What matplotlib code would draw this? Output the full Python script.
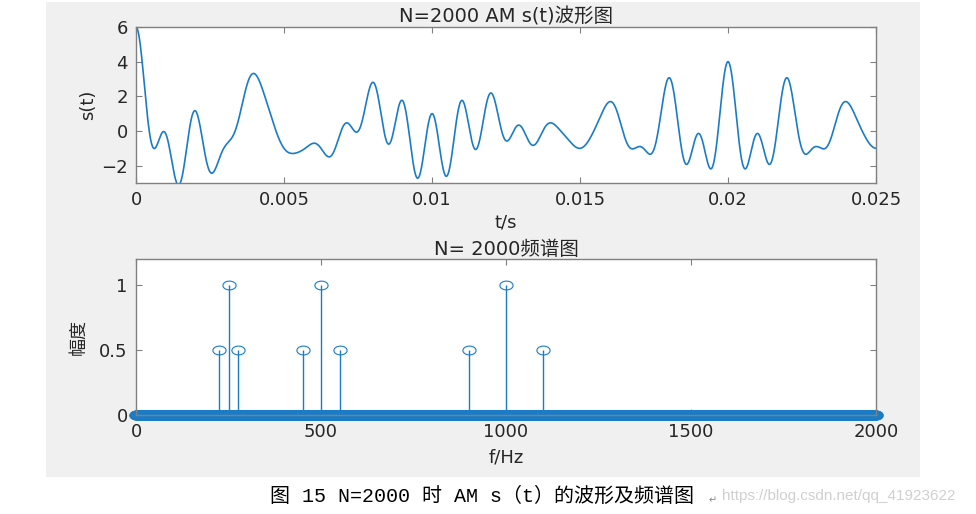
import numpy as np
import matplotlib.pyplot as plt
from matplotlib.path import Path
from matplotlib.patches import Rectangle

# spectral lines (Hz, amplitude)
line_freqs = [225, 250, 275, 450, 500, 550, 900, 1000, 1100]
line_amps = [0.5, 1.0, 0.5, 0.5, 1.0, 0.5, 0.5, 1.0, 0.5]

N = 2000
t_end = 0.025
top_title = 'N=2000 AM s(t)波形图'
bot_title = 'N= 2000频谱图'
caption = '图 15 N=2000 时 AM s（t）的波形及频谱图'
watermark = 'https://blog.csdn.net/qq_41923622'

blue = '#1a7cc6'
plt.rcParams['font.family'] = ['DejaVu Sans', 'Noto Sans CJK SC']

# waveform = sum of the spectral components above
t = np.linspace(0, t_end, 3000)
s = np.zeros_like(t)
for f0, a in zip(line_freqs, line_amps):
    s += a * np.cos(2 * np.pi * f0 * t)

# spectrum on a 1 Hz grid, zero except the lines
f = np.arange(0, N + 1)
mag = np.zeros(len(f))
for f0, a in zip(line_freqs, line_amps):
    mag[f0] = a

fig = plt.figure(figsize=(9.76, 5.14), dpi=100)
fig.patches.append(Rectangle((46 / 976, 1 - 477 / 514), (920 - 46) / 976, 475 / 514,
                             transform=fig.transFigure, facecolor='#f0f0f0',
                             edgecolor='none', zorder=-5))

ax1 = fig.add_axes([136 / 976, 1 - 183 / 514, 740 / 976, 156 / 514])
ax2 = fig.add_axes([136 / 976, 1 - 415 / 514, 740 / 976, 156 / 514])


def matlab_style(ax):
    for sp in ax.spines.values():
        sp.set_color('#808080')
        sp.set_linewidth(1.0)
    ax.tick_params(direction='in', top=True, right=True, length=4, width=0.8,
                   color='#808080', labelsize=13, labelcolor='#262626', pad=6)


ax1.plot(t, s, color=blue, lw=1.2)
ax1.set_xlim(0, t_end)
ax1.set_ylim(-3, 6)
ax1.set_xticks([0, 0.005, 0.01, 0.015, 0.02, 0.025])
ax1.set_xticklabels(['0', '0.005', '0.01', '0.015', '0.02', '0.025'])
ax1.set_yticks([-2, 0, 2, 4, 6])
ax1.set_title(top_title, fontsize=14, color='#262626', pad=3)
ax1.set_xlabel('t/s', fontsize=13, color='#262626', labelpad=3)
ax1.set_ylabel('s(t)', fontsize=13, color='#262626', labelpad=3)
matlab_style(ax1)

# stretched circle, as in the reference picture
th = np.linspace(0, 2 * np.pi, 40)
ellipse = Path(np.column_stack([1.5 * np.cos(th), np.sin(th)]))

ml, sl, bl = ax2.stem(f, mag)
sl.set_color(blue)
sl.set_linewidth(1.0)
bl.set_visible(False)
ml.set_marker(ellipse)
ml.set_markersize(9.5)
ml.set_markerfacecolor('none')
ml.set_markeredgecolor(blue)
ml.set_markeredgewidth(0.8)
ml.set_clip_on(False)
ax2.set_xlim(0, N)
ax2.set_ylim(0, 1.2)
ax2.set_xticks([0, 500, 1000, 1500, 2000])
ax2.set_yticks([0, 0.5, 1])
ax2.set_yticklabels(['0', '0.5', '1'])
ax2.set_title(bot_title, fontsize=14, color='#262626', pad=3)
ax2.set_xlabel('f/Hz', fontsize=13, color='#262626', labelpad=5)
ax2.set_ylabel('幅度', fontsize=13, color='#262626', labelpad=8,
               family='Noto Sans CJK SC')
matlab_style(ax2)

fig.text(270 / 976, 1 - 496 / 514, caption, ha='left', va='center',
         fontsize=14.4, family=['Liberation Mono', 'Noto Sans CJK SC'], color='black')
fig.text(713 / 976, 1 - 500 / 514, '↵', ha='center', va='center',
         fontsize=7, family='DejaVu Sans', color='#888888')
fig.text(722 / 976, 1 - 496 / 514, watermark, ha='left', va='center',
         fontsize=11, family='Liberation Sans', color='#d0d0d0')

fig.savefig('out.png', dpi=100)
